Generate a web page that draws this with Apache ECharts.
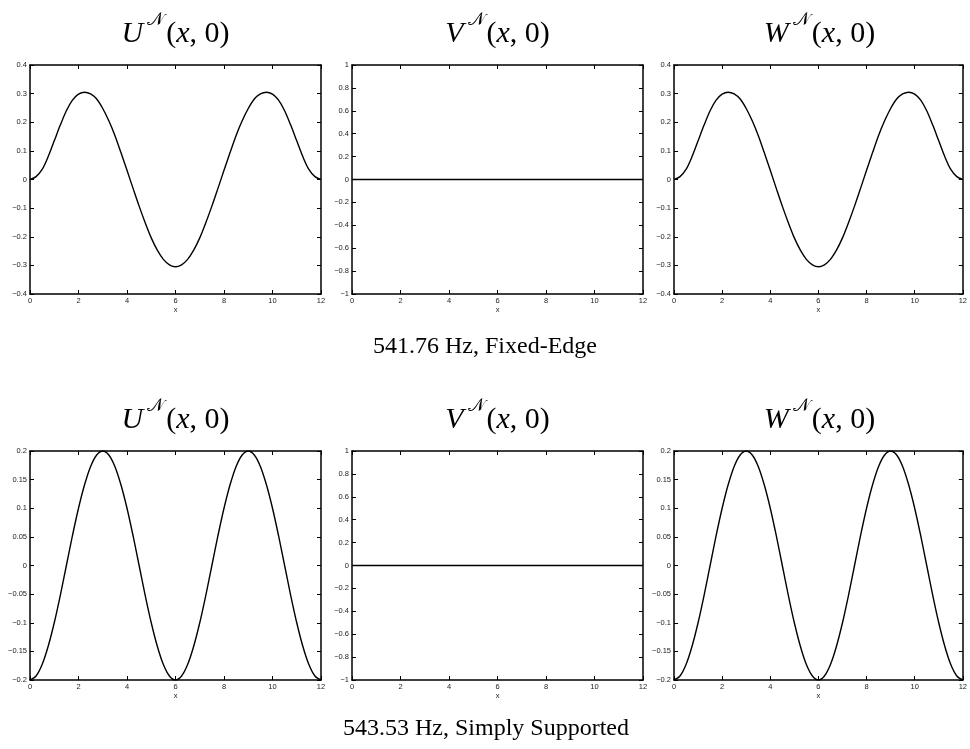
<!DOCTYPE html>
<html><head><meta charset="utf-8">
<script src="https://cdn.jsdelivr.net/npm/echarts@6/dist/echarts.min.js"></script>
<style>html,body{margin:0;padding:0;background:#fff}#c{width:970px;height:749px}</style>
</head><body><div id="c"></div>
<script>
// x positions (0..12)
const xGrid = [0,0.25,0.5,0.75,1,1.25,1.5,1.75,2,2.25,2.5,2.75,3,3.25,3.5,3.75,4,4.25,4.5,4.75,5,5.25,5.5,5.75,6,
  6.25,6.5,6.75,7,7.25,7.5,7.75,8,8.25,8.5,8.75,9,9.25,9.5,9.75,10,10.25,10.5,10.75,11,11.25,11.5,11.75,12];
// 541.76 Hz, Fixed-Edge
const uFixed = [0,0.01,0.035,0.08,0.135,0.19,0.24,0.277,0.298,0.305,0.299,0.281,0.248,0.205,0.154,0.094,0.032,-0.031,-0.093,-0.151,-0.204,-0.247,-0.279,-0.298,-0.305,
  -0.298,-0.279,-0.247,-0.204,-0.151,-0.093,-0.031,0.032,0.094,0.154,0.205,0.248,0.281,0.299,0.305,0.298,0.277,0.24,0.19,0.135,0.08,0.035,0.01,0];
const wFixed = [0,0.01,0.035,0.08,0.135,0.19,0.24,0.277,0.298,0.305,0.299,0.281,0.248,0.205,0.154,0.094,0.032,-0.031,-0.093,-0.151,-0.204,-0.247,-0.279,-0.298,-0.305,
  -0.298,-0.279,-0.247,-0.204,-0.151,-0.093,-0.031,0.032,0.094,0.154,0.205,0.248,0.281,0.299,0.305,0.298,0.277,0.24,0.19,0.135,0.08,0.035,0.01,0];
const xFlat = [0,12];
const vFixed = [0,0];
// 543.53 Hz, Simply Supported
const uSimple = [-0.2,-0.193,-0.173,-0.141,-0.1,-0.052,0,0.052,0.1,0.141,0.173,0.193,0.2,0.193,0.173,0.141,0.1,0.052,0,-0.052,-0.1,-0.141,-0.173,-0.193,-0.2,
  -0.193,-0.173,-0.141,-0.1,-0.052,0,0.052,0.1,0.141,0.173,0.193,0.2,0.193,0.173,0.141,0.1,0.052,0,-0.052,-0.1,-0.141,-0.173,-0.193,-0.2];
const wSimple = [-0.2,-0.193,-0.173,-0.141,-0.1,-0.052,0,0.052,0.1,0.141,0.173,0.193,0.2,0.193,0.173,0.141,0.1,0.052,0,-0.052,-0.1,-0.141,-0.173,-0.193,-0.2,
  -0.193,-0.173,-0.141,-0.1,-0.052,0,0.052,0.1,0.141,0.173,0.193,0.2,0.193,0.173,0.141,0.1,0.052,0,-0.052,-0.1,-0.141,-0.173,-0.193,-0.2];
const vSimple = [0,0];
const xTicks = {min:0, max:12, interval:2};
const panelTitles = ['U','V','W'];
const captions = ['541.76 Hz, Fixed-Edge', '543.53 Hz, Simply Supported'];

const panels = [
  {left:30, top:65, ymin:-0.4, ymax:0.4, yint:0.1, xs:xGrid, ys:uFixed},
  {left:352, top:65, ymin:-1, ymax:1, yint:0.2, xs:xFlat, ys:vFixed},
  {left:674, top:65, ymin:-0.4, ymax:0.4, yint:0.1, xs:xGrid, ys:wFixed},
  {left:30, top:451, ymin:-0.2, ymax:0.2, yint:0.05, xs:xGrid, ys:uSimple},
  {left:352, top:451, ymin:-1, ymax:1, yint:0.2, xs:xFlat, ys:vSimple},
  {left:674, top:451, ymin:-0.2, ymax:0.2, yint:0.05, xs:xGrid, ys:wSimple}
];
const W = 291, H = 229;
const fmt = v => { let r = Math.round(v*1000)/1000; if (Math.abs(r) < 1e-9) return '0'; return String(r).replace('-', '\u2212'); };
const lineSt = {show:true, onZero:false, lineStyle:{color:'#000', width:1.5}};
const tickSt = {show:true, inside:true, length:4, lineStyle:{color:'#000', width:1}};
const labSt = {fontFamily:'Liberation Sans', fontSize:7.5, color:'#222'};

const grid = [], xAxis = [], yAxis = [], series = [], graphic = [];
panels.forEach((p, i) => {
  grid.push({left:p.left, top:p.top, width:W, height:H, containLabel:false});
  xAxis.push({type:'value', gridIndex:i, position:'bottom', min:xTicks.min, max:xTicks.max, interval:xTicks.interval,
    axisLine:lineSt, axisTick:tickSt, splitLine:{show:false},
    axisLabel:Object.assign({margin:3, formatter:fmt}, labSt),
    name:'x', nameLocation:'middle', nameGap:10, nameTextStyle:{fontFamily:'Liberation Sans', fontSize:7.5, color:'#222'}});
  xAxis.push({type:'value', gridIndex:i, position:'top', min:xTicks.min, max:xTicks.max, interval:xTicks.interval,
    axisLine:lineSt, axisTick:tickSt, splitLine:{show:false}, axisLabel:{show:false}});
  yAxis.push({type:'value', gridIndex:i, position:'left', min:p.ymin, max:p.ymax, interval:p.yint,
    axisLine:lineSt, axisTick:tickSt, splitLine:{show:false},
    axisLabel:Object.assign({margin:3, formatter:fmt}, labSt)});
  yAxis.push({type:'value', gridIndex:i, position:'right', min:p.ymin, max:p.ymax, interval:p.yint,
    axisLine:lineSt, axisTick:tickSt, splitLine:{show:false}, axisLabel:{show:false}});
  series.push({type:'line', xAxisIndex:2*i, yAxisIndex:2*i, data:p.xs.map((x,k)=>[x, p.ys[k]]),
    smooth:0.3, showSymbol:false, symbol:'none', lineStyle:{color:'#000', width:1.4}, clip:true, animation:false});
  const row = Math.floor(i/3);
  graphic.push({type:'text', x:p.left + W/2, y: row === 0 ? 30 : 416,
    style:{text:'{i|' + panelTitles[i%3] + '}{s|\uD835\uDCA9}{n|(}{i|x}{n|, 0)}', textAlign:'center', textVerticalAlign:'middle',
      rich:{
        i:{fontFamily:'Liberation Serif', fontStyle:'italic', fontSize:30, lineHeight:38, verticalAlign:'bottom'},
        n:{fontFamily:'Liberation Serif', fontSize:30, lineHeight:38, verticalAlign:'bottom'},
        s:{fontFamily:'DejaVu Serif, DejaVu Sans', fontSize:18, lineHeight:38, verticalAlign:'top', padding:[0,2,0,4]}
      }, fill:'#000'}});
});
graphic.push({type:'text', x:485, y:347, style:{text:captions[0], font:'24px "Liberation Serif"', textAlign:'center', textVerticalAlign:'middle', fill:'#000'}});
graphic.push({type:'text', x:486, y:729, style:{text:captions[1], font:'24px "Liberation Serif"', textAlign:'center', textVerticalAlign:'middle', fill:'#000'}});

const chart = echarts.init(document.getElementById('c'));
chart.setOption({animation:false, backgroundColor:'#fff', grid, xAxis, yAxis, series, graphic});
</script>
</body></html>
